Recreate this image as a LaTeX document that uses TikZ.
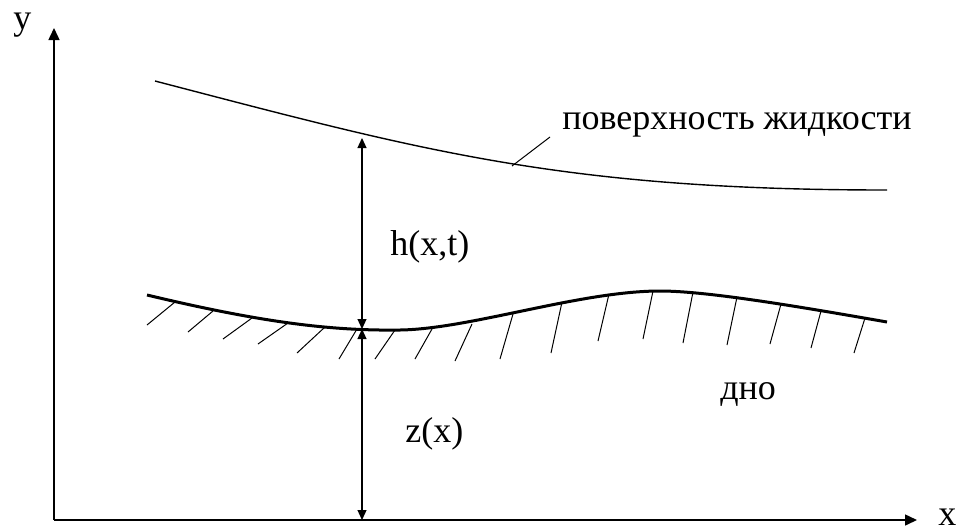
\documentclass[tikz,border=0pt]{standalone}
\usepackage{fontspec}
\setmainfont{Liberation Serif}
\usetikzlibrary{graphs}
\usetikzlibrary{arrows.meta}

\begin{document}
\begin{tikzpicture} [x=0.5pt, y=-0.5pt,
        every node/.style={inner sep=0pt, anchor=base west, font=\fontsize{18}{21}\selectfont},
        axis/.style={line width=0.75pt, -{Triangle[length=6pt,width=5.5pt]}},
        surface/.style={line width=0.7pt},
        bed/.style={line width=1.5pt},
        hatch/.style={line width=0.5pt},
        >={Triangle[length=5pt,width=4.5pt]}]
            \useasboundingbox (0,0) rectangle (959,531);

            \coordinate (o)     at (54,520);
            \coordinate (ytip)  at (54,28);
            \coordinate (xtip)  at (917,520);
            \coordinate (top)   at (362,138);
            \coordinate (mid)   at (362,329);
            \coordinate (foot)  at (362,520);
            \coordinate (lead)  at (512,166);
            \coordinate (leadend) at (550,137);

            \node (ylab) at (13,29)   {y};
            \node (xlab) at (938,525) {x};
            \node (hlab) at (390,255) {h(x,t)};
            \node (zlab) at (405,442) {z(x)};
            \node (dno)  at (720,399) {дно};
            \node (surf) at (562,129) {поверхность жидкости};

            \draw[axis] (o) -- (ytip);
            \draw[axis] (o) -- (xtip);

            \draw[surface] (155,81) .. controls (420,150) and (560,190) .. (887,190);
            \draw[hatch] (lead) -- (leadend);

            \draw[bed] (147,295) .. controls (260,322) and (330,331) .. (400,330)
                .. controls (470,329) and (580,291) .. (660,291)
                .. controls (705,291) and (790,305) .. (887,322);

            \draw[hatch] (175,302) -- (147,325);
            \draw[hatch] (213,311) -- (188,332);
            \draw[hatch] (252,318) -- (223,339);
            \draw[hatch] (288,323) -- (258,344);
            \draw[hatch] (325,327) -- (297,353);
            \draw[hatch] (357,329) -- (339,359);
            \draw[hatch] (395,330) -- (375,359);
            \draw[hatch] (432,329) -- (415,359);
            \draw[hatch] (472,324) -- (455,361);
            \draw[hatch] (513,314) -- (500,359);
            \draw[hatch] (562,302) -- (551,353);
            \draw[hatch] (609,294) -- (598,341);
            \draw[hatch] (653,291) -- (643,339);
            \draw[hatch] (693,292) -- (683,343);
            \draw[hatch] (737,297) -- (727,345);
            \draw[hatch] (781,304) -- (770,344);
            \draw[hatch] (821,311) -- (811,348);
            \draw[hatch] (865,318) -- (854,353);

            \graph[edges={<->, line width=0.6pt}] {
                (top) -- (mid) -- (foot);
            };
        \end{tikzpicture}
\end{document}
